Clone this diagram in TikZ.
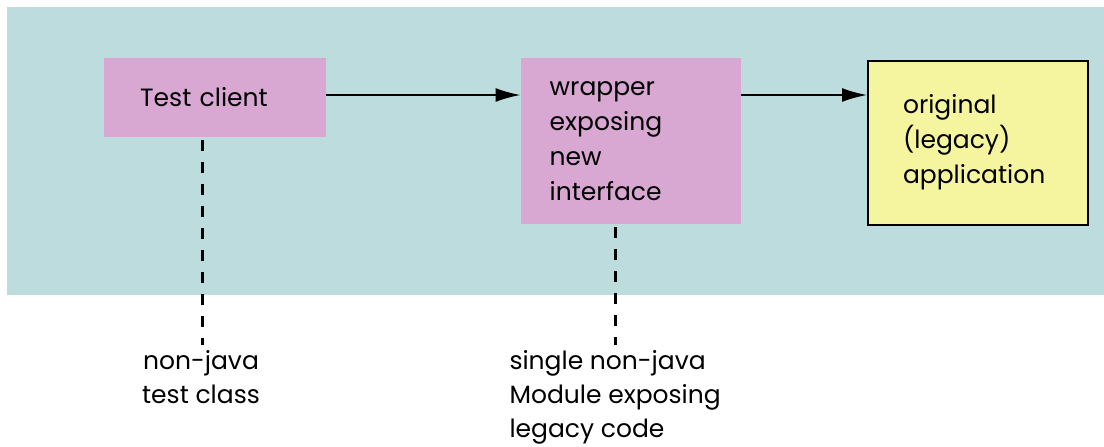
\documentclass[tikz,border=0pt]{standalone}
\usepackage{fontspec}
\setmainfont{Poppins}
\usetikzlibrary{arrows.meta}
\definecolor{bgteal}{RGB}{189,220,221}
\definecolor{boxpink}{RGB}{216,167,210}
\definecolor{boxyellow}{RGB}{245,245,160}
\begin{document}
\begin{tikzpicture}[x=1pt,y=-1pt,
  every node/.style={font=\fontsize{25}{35}\selectfont, inner ysep=0pt},
  pinkbox/.style={fill=boxpink, draw=none, anchor=north west, align=left,
    minimum height=#1},
  yellowbox/.style={fill=boxyellow, draw=black, line width=2pt, anchor=north west, align=left,
    minimum height=#1},
  flow/.style={line width=1.8pt, -{Latex[length=25pt,width=14pt]}},
  leader/.style={line width=3pt, dash pattern=on 11pt off 11pt},
  note/.style={align=#1, anchor=north, font=\fontsize{25}{34}\selectfont}]
\useasboundingbox (0,0) rectangle (1104,447);
\fill[bgteal] (7,7) rectangle (1104,295);
\node[pinkbox=79, text width=150, inner xsep=36] (client) at (104,58) {\raisebox{2pt}{Test client}};
\node[pinkbox=166, text width=162, inner xsep=29] (wrap) at (520.5,58) {wrapper\\exposing\\new\\interface};
\node[yellowbox=164, text width=150, inner xsep=35] (orig) at (867,59.5) {original\\(legacy)\\application};
\coordinate (c1) at (202,140);
\coordinate (c2) at (615,227);
\coordinate (e1) at (202,345);
\coordinate (e2) at (615,345);
\draw[flow] (client.east |- 0,95) -- (wrap.west |- 0,95);
\draw[flow] (wrap.east |- 0,95) -- (orig.west |- 0,95);
\draw[leader] (c1) -- (e1);
\draw[leader] (c2) -- (e2);
\node[note=center] (n1) at (201,350) {non-java\\test class};
\node[note=left, anchor=north west] (n2) at (506,350) {single non-java\\Module exposing\\legacy code};
\end{tikzpicture}
\end{document}
